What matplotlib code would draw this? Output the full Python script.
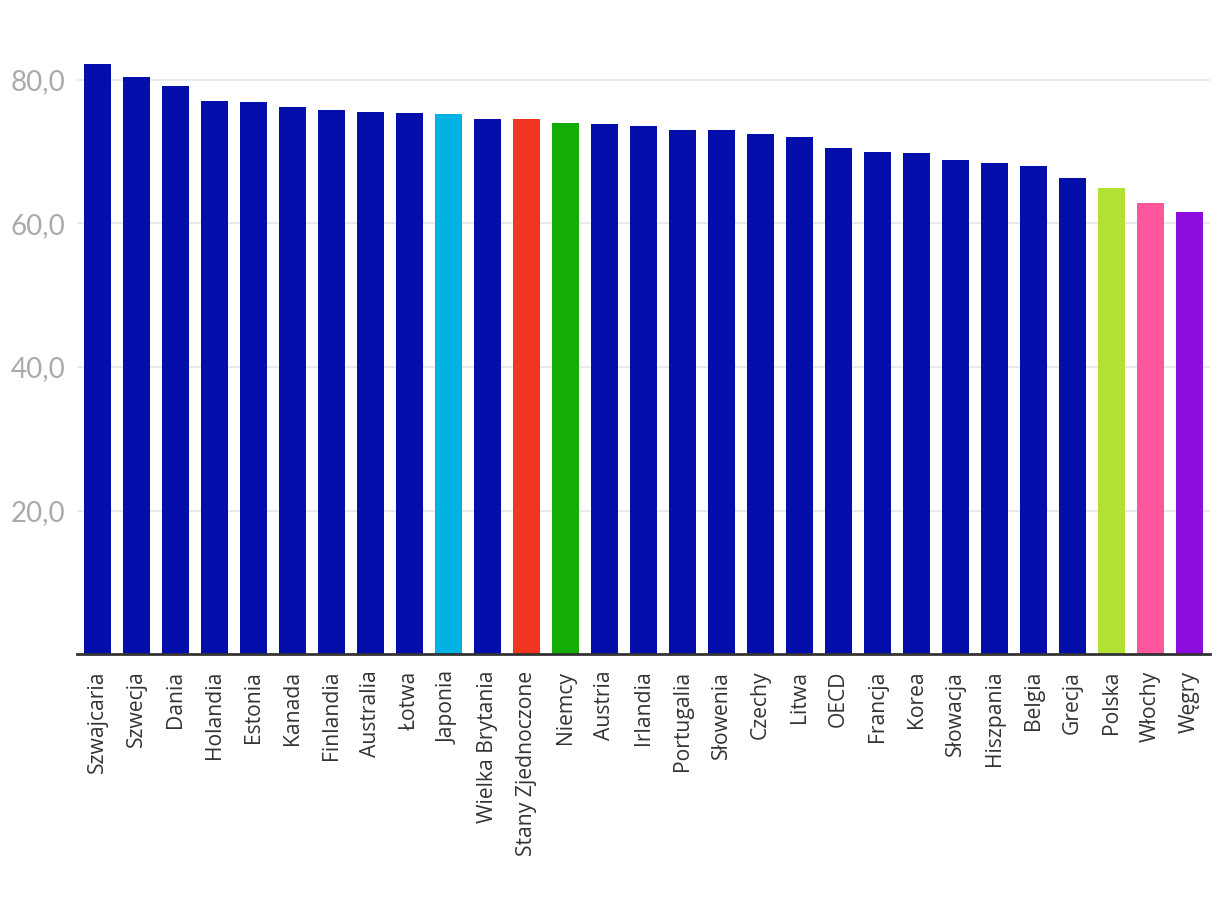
import matplotlib
matplotlib.use("Agg")
import matplotlib.pyplot as plt

countries = ["Szwajcaria", "Szwecja", "Dania", "Holandia", "Estonia", "Kanada",
             "Finlandia", "Australia", "Łotwa", "Japonia", "Wielka Brytania",
             "Stany Zjednoczone", "Niemcy", "Austria", "Irlandia", "Portugalia",
             "Słowenia", "Czechy", "Litwa", "OECD", "Francja", "Korea", "Słowacja",
             "Hiszpania", "Belgia", "Grecja", "Polska", "Włochy", "Węgry"]
values = [82.2, 80.4, 79.2, 77.1, 76.9, 76.2, 75.8, 75.5, 75.4, 75.2, 74.6,
          74.5, 74.0, 73.9, 73.6, 73.0, 73.0, 72.5, 72.1, 70.5, 70.0, 69.8,
          68.8, 68.4, 68.0, 66.3, 64.9, 62.9, 61.6]

highlight = {
    "Japonia": "#00B3E3",
    "Stany Zjednoczone": "#F2351E",
    "Niemcy": "#14AD05",
    "Polska": "#B3E035",
    "Włochy": "#FF579E",
    "Węgry": "#8C0DDE",
}
base_color = "#030EAB"
colors = [highlight.get(c, base_color) for c in countries]

yticks = [20, 40, 60, 80]

fig = plt.figure(figsize=(12.2, 9.18), dpi=100)
ax = fig.add_axes([77 / 1220, 264 / 918, (1210 - 77) / 1220, 90 * 7.175 / 918])

x = range(len(countries))
ax.bar(x, values, width=0.69, color=colors, zorder=3)

ax.set_xlim(-0.525, len(countries) - 0.475)
ax.set_ylim(0, 90)
ax.set_yticks(yticks)
ax.set_yticklabels([f"{v:.1f}".replace(".", ",") for v in yticks],
                   fontfamily="Lato", fontsize=20, color="#aaaaaa")
ax.set_xticks(list(x))
ax.set_xticklabels(countries, rotation=90, fontfamily="Open Sans",
                   fontsize=15.2, color="#333333", va="top", ha="center")

ax.tick_params(axis="y", length=0, pad=8.5)
ax.tick_params(axis="x", length=0, pad=12)
ax.grid(axis="y", color="#e6e6e6", linewidth=1.2, zorder=0)

for side in ["top", "right", "left"]:
    ax.spines[side].set_visible(False)
ax.spines["bottom"].set_color("#333333")
ax.spines["bottom"].set_linewidth(2)
ax.spines["bottom"].set_zorder(4)

fig.savefig("out.png", dpi=100)
